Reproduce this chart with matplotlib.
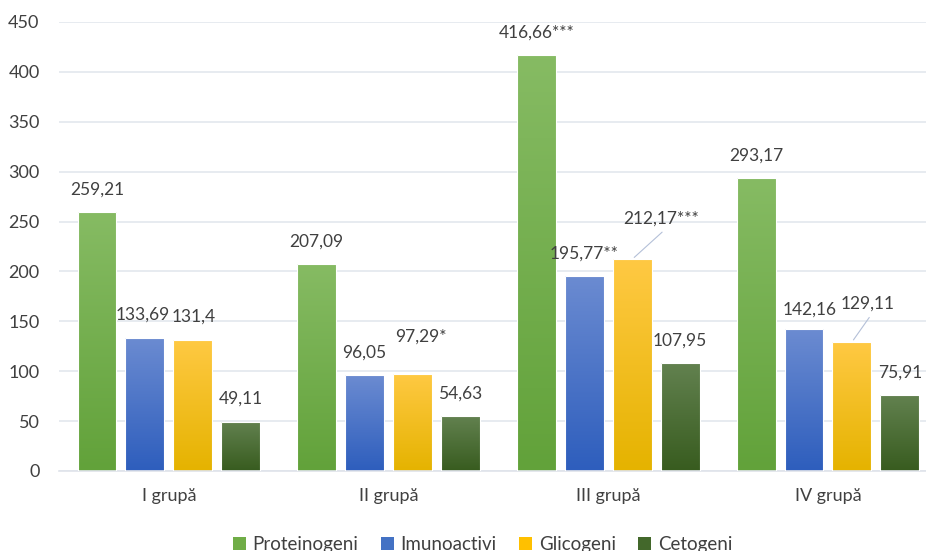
import matplotlib.pyplot as plt
import numpy as np
from matplotlib.colors import LinearSegmentedColormap
from matplotlib.patches import Patch

plt.rcParams['font.family'] = ['Lato', 'DejaVu Sans']

groups = ['I grupă', 'II grupă', 'III grupă', 'IV grupă']
series = ['Proteinogeni', 'Imunoactivi', 'Glicogeni', 'Cetogeni']
proteinogeni = [259.21, 207.09, 416.66, 293.17]
imunoactivi = [133.69, 96.05, 195.77, 142.16]
glicogeni = [131.4, 97.29, 212.17, 129.11]
cetogeni = [49.11, 54.63, 107.95, 75.91]
# significance marks printed after the values
stars = [
    ['', '', '***', ''],
    ['', '', '**', ''],
    ['', '*', '***', ''],
    ['', '', '', ''],
]
values = [proteinogeni, imunoactivi, glicogeni, cetogeni]

# (top colour, bottom colour) of each series gradient
grad = [('#86bb63', '#62a23a'),
        ('#6b8bd1', '#2e5ebd'),
        ('#ffc943', '#e5b300'),
        ('#62814f', '#385c1f')]
legend_col = ['#70ad47', '#4472c4', '#ffc000', '#43682b']

# label offsets in pixels (dx, dy) and whether a leader line is drawn
label_off = {
    (1, 0): (-2, 23, False),
    (2, 0): (1, 23, False),
    (1, 2): (0, 22, False),
    (1, 3): (6, 20, False),
    (2, 1): (8, 37, False),
    (2, 2): (29, 41, True),
    (2, 3): (16, 39, True),
}

fig = plt.figure(figsize=(9.26, 5.51), dpi=100)
ax = fig.add_axes([0.0637, 0.1452, 0.949, 0.8149])

x = np.arange(len(groups))
step = 0.218
width = 0.177
offsets = (np.arange(4) - 1.5) * step

for s in range(4):
    cmap = LinearSegmentedColormap.from_list(f'g{s}', [grad[s][1], grad[s][0]])
    bars = ax.bar(x + offsets[s], values[s], width, color='none',
                  edgecolor='#ffffff', linewidth=0.8, zorder=3)
    for i, b in enumerate(bars):
        x0 = b.get_x()
        h = b.get_height()
        img = ax.imshow(np.linspace(0, 1, 100).reshape(-1, 1)[::-1], cmap=cmap,
                        extent=(x0, x0 + width, 0, h), aspect='auto',
                        origin='upper', zorder=2)
        img.set_clip_path(b)
        v = values[s][i]
        txt = f'{v:.2f}'.rstrip('0').rstrip('.').replace('.', ',') + stars[s][i]
        dx, dy, line = label_off.get((s, i), (0, 23, False))
        ax.annotate(txt, (x0 + width / 2, h), xytext=(dx, dy),
                    textcoords='offset pixels', ha='center', va='center',
                    fontsize=12.5, color='#404040', zorder=4)
        if line:
            ax.annotate('', (x0 + width / 2, h), xytext=(dx + 3, dy - 12),
                        textcoords='offset pixels',
                        arrowprops=dict(arrowstyle='-', color='#b4c0d8', lw=0.8))

ax.set_xlim(-0.5, 3.5)
ax.set_ylim(0, 450)
ax.set_yticks(np.arange(0, 451, 50))
ax.set_xticks(x)
ax.set_xticklabels(groups)
ax.grid(axis='y', color='#e3e7ee', linewidth=1.2, zorder=0)
ax.set_axisbelow(True)
for sp in ['top', 'right', 'left']:
    ax.spines[sp].set_visible(False)
ax.spines['bottom'].set_color('#dfe3ea')
ax.spines['bottom'].set_linewidth(1.2)
ax.tick_params(axis='both', length=0, labelsize=13, colors='#404040')
ax.tick_params(axis='y', pad=14)
ax.tick_params(axis='x', pad=12)

handles = [Patch(facecolor=c, edgecolor='none') for c in legend_col]
fig.legend(handles, series, loc='center', bbox_to_anchor=(0.521, 0.012),
           ncol=4, frameon=False, fontsize=13.5, handlelength=0.7,
           handleheight=0.7, handletextpad=0.35, columnspacing=1.2,
           labelcolor='#404040')

fig.savefig('out.png', dpi=100)
